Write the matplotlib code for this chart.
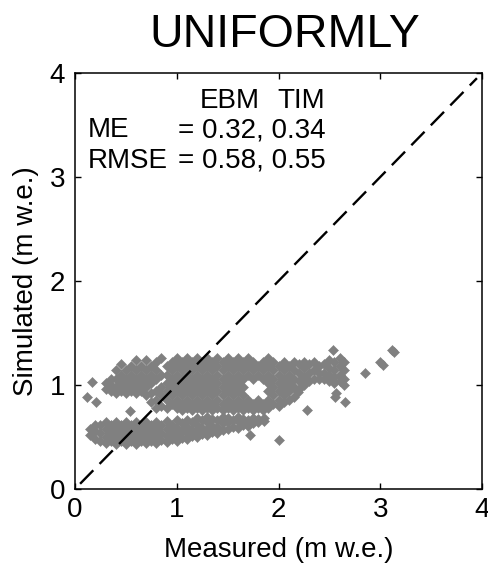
import matplotlib
matplotlib.use('Agg')
import matplotlib.pyplot as plt
import numpy as np

plt.rcParams['font.family'] = ['Liberation Sans', 'DejaVu Sans']

# upper cloud: one measured value per column, simulated values listed per column
upper_x = [0.30, 0.35, 0.40, 0.45, 0.50, 0.55, 0.60, 0.65, 0.70, 0.75,
           0.80, 0.85, 0.90, 0.95, 1.00, 1.05, 1.10, 1.15, 1.20, 1.25,
           1.30, 1.35, 1.40, 1.45, 1.50, 1.55, 1.60, 1.65, 1.70, 1.75,
           1.80, 1.85, 1.90, 1.95, 2.00, 2.05, 2.10, 2.15, 2.20, 2.25,
           2.30, 2.35, 2.40, 2.45, 2.50, 2.55, 2.60, 2.64]
upper_y = [[0.96, 1.02], [0.94, 1.00, 1.06], [0.92, 0.98, 1.06, 1.14],
           [0.94, 1.02, 1.10, 1.20], [0.92, 0.98, 1.06, 1.14],
           [0.94, 1.02, 1.10, 1.18], [0.92, 0.98, 1.06, 1.14, 1.24],
           [0.94, 1.02, 1.10, 1.18], [0.90, 0.98, 1.06, 1.14, 1.24],
           [0.84, 0.92, 1.02, 1.10, 1.18],
           [0.78, 0.86, 0.94, 1.06, 1.14, 1.22],
           [0.80, 0.90, 0.98, 1.10, 1.26],
           [0.78, 0.86, 0.94, 1.02, 1.10, 1.18],
           [0.82, 0.90, 0.98, 1.06, 1.14, 1.22],
           [0.78, 0.86, 0.94, 1.02, 1.10, 1.18, 1.26],
           [0.76, 0.82, 0.90, 0.98, 1.06, 1.14, 1.22],
           [0.78, 0.86, 0.94, 1.02, 1.10, 1.18, 1.26],
           [0.76, 0.82, 0.90, 0.98, 1.06, 1.14, 1.22],
           [0.78, 0.86, 0.94, 1.02, 1.10, 1.18, 1.26],
           [0.76, 0.82, 0.90, 0.98, 1.06, 1.14, 1.22],
           [0.78, 0.86, 0.94, 1.02, 1.10, 1.18, 1.26],
           [0.76, 0.82, 0.90, 0.98, 1.06, 1.14, 1.22],
           [0.78, 0.86, 0.94, 1.02, 1.10, 1.18, 1.26],
           [0.76, 0.82, 0.90, 0.98, 1.06, 1.14, 1.22],
           [0.78, 0.86, 0.94, 1.02, 1.10, 1.18, 1.26],
           [0.76, 0.82, 0.90, 0.98, 1.06, 1.14, 1.22],
           [0.78, 0.86, 0.94, 1.02, 1.10, 1.18, 1.26],
           [0.76, 0.82, 0.90, 0.98, 1.06, 1.14, 1.22],
           [0.78, 0.86, 1.10, 1.18, 1.26],
           [0.76, 0.82, 1.06, 1.14, 1.22],
           [0.78, 0.86, 1.10, 1.18],
           [0.76, 0.82, 1.06, 1.14, 1.22],
           [0.78, 0.86, 0.94, 1.02, 1.10, 1.18, 1.26],
           [0.82, 0.90, 0.98, 1.06, 1.14, 1.22],
           [0.80, 0.86, 0.94, 1.02, 1.10, 1.18],
           [0.84, 0.90, 0.98, 1.06, 1.14, 1.22],
           [0.86, 0.94, 1.02, 1.10, 1.18],
           [0.88, 0.98, 1.06, 1.14, 1.22],
           [0.96, 1.04, 1.12, 1.20], [1.00, 1.08, 1.16, 1.22],
           [1.04, 1.12, 1.20], [1.06, 1.14, 1.22], [1.06, 1.12, 1.18],
           [1.06, 1.12, 1.20], [1.04, 1.10, 1.16, 1.24],
           [1.02, 1.08, 1.14, 1.22], [1.04, 1.10, 1.18, 1.26],
           [1.00, 1.06, 1.14, 1.22]]

# lower cloud
lower_x = [0.15, 0.20, 0.25, 0.30, 0.35, 0.40, 0.45, 0.50, 0.55, 0.60,
           0.65, 0.70, 0.75, 0.80, 0.85, 0.90, 0.95, 1.00, 1.05, 1.10,
           1.15, 1.20, 1.25, 1.30, 1.35, 1.40, 1.45, 1.50, 1.55, 1.60,
           1.65, 1.70, 1.75, 1.80, 1.86]
lower_y = [[0.52, 0.58], [0.48, 0.56, 0.62], [0.46, 0.54, 0.62],
           [0.44, 0.50, 0.58, 0.64], [0.46, 0.54, 0.62],
           [0.43, 0.50, 0.58, 0.64], [0.46, 0.54, 0.62],
           [0.43, 0.50, 0.58, 0.64], [0.46, 0.54, 0.62],
           [0.43, 0.50, 0.58, 0.64], [0.46, 0.54, 0.62],
           [0.44, 0.50, 0.58, 0.64], [0.46, 0.54, 0.62],
           [0.44, 0.50, 0.58, 0.64], [0.47, 0.54, 0.62],
           [0.45, 0.51, 0.58, 0.65], [0.48, 0.55, 0.62],
           [0.46, 0.52, 0.59, 0.66], [0.49, 0.56, 0.63],
           [0.48, 0.54, 0.60, 0.66], [0.51, 0.57, 0.64],
           [0.50, 0.56, 0.62, 0.68], [0.53, 0.59, 0.66],
           [0.52, 0.58, 0.64, 0.69], [0.55, 0.61, 0.67],
           [0.54, 0.60, 0.66], [0.57, 0.63, 0.69], [0.58, 0.64, 0.68],
           [0.60, 0.66], [0.59, 0.65, 0.69], [0.62, 0.67], [0.61, 0.66],
           [0.63, 0.68], [0.64, 0.67], [0.65, 0.68]]

# scattered single points
other_x = [0.17, 0.12, 0.21, 0.54, 2.00, 1.72, 2.28, 2.19, 2.57, 2.56,
           2.65, 2.85, 3.00, 3.03, 3.12, 3.14, 2.54]
other_y = [1.03, 0.88, 0.84, 0.75, 0.47, 0.52, 0.76, 0.93, 0.92, 0.88,
           0.84, 1.12, 1.22, 1.19, 1.34, 1.32, 1.34]

diag = [0.05, 3.95]

measured = []
simulated = []
for xs, ys in ((upper_x, upper_y), (lower_x, lower_y)):
    for x, col in zip(xs, ys):
        measured += [x] * len(col)
        simulated += col
measured += other_x
simulated += other_y

fig = plt.figure(figsize=(4.88, 5.63), dpi=100)
ax = fig.add_axes([75/488, 1 - 489/563, 407/488, 416/563])

ax.plot(measured, simulated, 'D', color='#808080', ms=5.0, mew=0.4,
        mec='#808080', zorder=2)
ax.plot(diag, diag, color='black', lw=1.7, dashes=(8, 3.8), zorder=3)

ax.set_xlim(0, 4)
ax.set_ylim(0, 4)
ax.set_xticks([0, 1, 2, 3, 4])
ax.set_yticks([0, 1, 2, 3, 4])
ax.tick_params(direction='in', length=4, width=1, labelsize=20,
               top=True, right=True)
ax.tick_params(axis='x', pad=6)
ax.tick_params(axis='y', pad=7)
for s in ax.spines.values():
    s.set_linewidth(1.1)

ax.set_xlabel('Measured (m w.e.)', fontsize=20)
ax.xaxis.label.set_va('baseline')
ax.xaxis.set_label_coords(0.5, -(557 - 489) / 416)
ax.set_ylabel('Simulated (m w.e.)', fontsize=20)
ax.yaxis.label.set_va('baseline')
ax.yaxis.set_label_coords((33 - 75) / 407, 0.5)

ax.text(1.23, 3.66, 'EBM', fontsize=20)
ax.text(1.99, 3.66, 'TIM', fontsize=20)
ax.text(0.13, 3.38, 'ME', fontsize=20)
ax.text(1.01, 3.38, '= 0.32, 0.34', fontsize=20)
ax.text(0.13, 3.09, 'RMSE', fontsize=20)
ax.text(1.01, 3.09, '= 0.58, 0.55', fontsize=20)

fig.text(285/488, 1 - 47/563, 'UNIFORMLY', fontsize=33.5,
         ha='center', va='baseline')

fig.savefig('out.png', dpi=100)
